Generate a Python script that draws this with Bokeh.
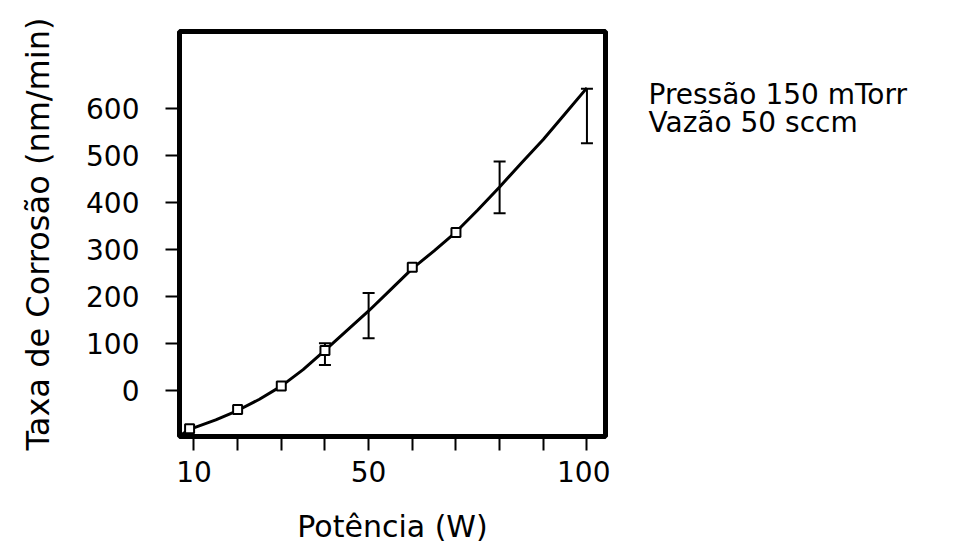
from bokeh.plotting import figure
from bokeh.layouts import row
from bokeh.models import Range1d, FixedTicker, Whisker, TeeHead, ColumnDataSource
from bokeh.core.properties import value
from bokeh.embed import file_html
from bokeh.resources import INLINE

# ---- data ----
curve_power = [6.9, 9, 15, 20, 25, 30, 35, 40, 45, 50, 55, 60, 65, 70, 75, 80, 85, 90, 95, 100]
curve_rate = [-95, -82, -62, -42, -18, 10, 45, 86, 128, 170, 215, 260, 298, 338, 385, 434, 485, 535, 590, 645]

mark_power = [9, 20, 30, 40, 60, 70]
mark_rate = [-81, -40, 10, 86, 263, 337]

err_power = [40, 50, 80, 100]
err_rate = [78, 160, 433, 585]
err_size = [23, 48, 55, 58]

x_ticks = [10, 20, 30, 40, 50, 60, 70, 80, 90, 100]
x_labeled = [10, 50, 100]
y_ticks = [0, 100, 200, 300, 400, 500, 600]

note_lines = ["Pressão 150 mTorr", "Vazão 50 sccm"]

FONT = "DejaVu Sans"
TOP, BOTTOM = 31, 113

p = figure(width=610, height=549, output_backend="svg", toolbar_location=None,
           x_range=Range1d(6.69, 104.25), y_range=Range1d(-97.3, 765),
           min_border_left=179, min_border_right=5, min_border_top=TOP, min_border_bottom=BOTTOM)

p.background_fill_color = "white"
p.border_fill_color = "white"
p.outline_line_color = "black"
p.outline_line_width = 5
p.grid.visible = False

# axes
p.xaxis.ticker = FixedTicker(ticks=x_ticks)
p.xaxis.major_label_overrides = {t: (str(t) if t in x_labeled else "") for t in x_ticks}
p.yaxis.ticker = FixedTicker(ticks=y_ticks)
p.xaxis.minor_tick_line_color = None
p.yaxis.minor_tick_line_color = None
for ax in (p.xaxis, p.yaxis):
    ax.axis_line_color = None
    ax.major_tick_line_color = "black"
    ax.major_tick_line_width = 2
    ax.major_tick_in = 0
    ax.major_tick_out = 14
    ax.major_label_text_font = FONT
    ax.major_label_text_font_size = "28px"
    ax.major_label_text_color = "black"
    ax.axis_label_text_font = FONT
    ax.axis_label_text_font_style = "normal"
    ax.axis_label_text_color = "black"
p.xaxis.axis_label_text_font_size = "30px"
p.yaxis.axis_label_text_font_size = "32px"
p.xaxis.major_label_standoff = 10
p.yaxis.major_label_standoff = 26
p.xaxis.axis_label = "Potência (W)"
p.yaxis.axis_label = "Taxa de Corrosão (nm/min)"
p.xaxis.axis_label_standoff = 24
p.yaxis.axis_label_standoff = 26

# fitted curve
p.line(curve_power, curve_rate, line_color="black", line_width=3)

# error bars
src = ColumnDataSource(dict(x=err_power,
                            upper=[r + e for r, e in zip(err_rate, err_size)],
                            lower=[r - e for r, e in zip(err_rate, err_size)]))
wh = Whisker(source=src, base="x", upper="upper", lower="lower", dimension="height",
             line_color="black", line_width=2,
             upper_head=TeeHead(size=12, line_color="black", line_width=2),
             lower_head=TeeHead(size=12, line_color="black", line_width=2))
p.add_layout(wh)

# measured points
p.scatter(mark_power, mark_rate, marker="square", size=9, fill_color="white",
          line_color="black", line_width=2)

# side note panel: its frame is aligned with the main frame
q = figure(width=362, height=549, output_backend="svg", toolbar_location=None,
           x_range=Range1d(0, 362), y_range=Range1d(549 - BOTTOM, TOP),
           x_axis_type=None, y_axis_type=None, min_border=0,
           min_border_top=TOP, min_border_bottom=BOTTOM)
q.outline_line_color = None
q.grid.visible = False
q.background_fill_color = "white"
q.border_fill_color = "white"
q.text(x=[38, 38], y=[94, 122], text=note_lines, text_font=value(FONT),
       text_font_size="28px", text_color="black", text_baseline="alphabetic",
       text_align="left")

layout = row(p, q, spacing=0)
open("out.html", "w").write(file_html(layout, INLINE))
